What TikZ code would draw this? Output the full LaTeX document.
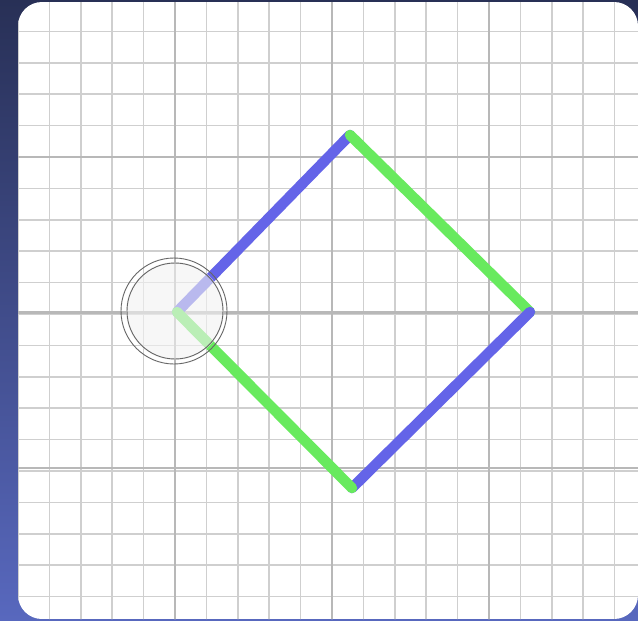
\documentclass[tikz,border=0pt]{standalone}
\usetikzlibrary{positioning}
\definecolor{edgeblue}{RGB}{100,100,232}
\definecolor{edgegreen}{RGB}{104,234,94}
\definecolor{navytop}{RGB}{40,48,86}
\definecolor{navybot}{RGB}{88,104,190}
\begin{document}
\begin{tikzpicture}[x=1pt,y=-1pt,
 minor/.style={draw=black!19,line width=1.6pt},
 major/.style={draw=black!28,line width=2.6pt},
 side/.style={line width=10.5pt,line cap=round,line join=round},
 ring/.style={draw=black!60,line width=.9pt}]
\useasboundingbox (0,0) rectangle (638,621);
\shade[top color=navytop,bottom color=navybot] (0,0) rectangle (638,621);
% card with grid
\begin{scope}
\clip[rounded corners=24pt] (18,2) rectangle (638,619);
\fill[white] (18,2) rectangle (638,619);
\foreach \k in {-5,...,14}
  \draw[minor] ({175+\k*31.4},0) -- ++(0,621);
\foreach \k in {-5,...,14}
  \draw[minor] (0,{157+\k*31.4}) -- ++(638,0);
\foreach \k in {0,1,2} {
  \draw[major] ({175+\k*157},0) -- ++(0,621);
  \draw[major] (0,{157+\k*155.5}) -- ++(638,0);
}
\end{scope}
% square
\coordinate (left) at (177,312);
\coordinate (top) at (350,135);
\coordinate (right) at (530,312);
\coordinate (bottom) at (352,488);
\draw[side,edgeblue] (left) -- (top);
\draw[side,edgegreen] (top) -- (right);
\draw[side,edgeblue] (right) -- (bottom);
\draw[side,edgegreen] (bottom) -- (left);
% pivot
\node[circle,minimum size=98pt,inner sep=0pt,fill=black!5,fill opacity=.6] (pivot) at (175,311) {};
\draw[ring] (pivot) circle[radius=48];
\draw[ring] ([xshift=-1pt]pivot.center) circle[radius=53];
\end{tikzpicture}
\end{document}
